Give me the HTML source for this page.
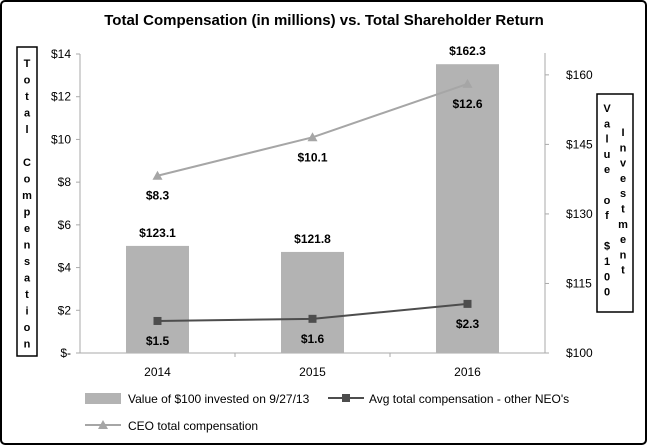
<!DOCTYPE html>
<html><head><meta charset="utf-8"><style>
body{margin:0;background:#fff;}
svg{display:block;font-family:"Liberation Sans",Arial,sans-serif;}
</style></head><body>
<svg id="c" width="648" height="446">
<rect x="1" y="1" width="645" height="443" rx="4" fill="#fff" stroke="#000" stroke-width="2"/>
<text x="324" y="25" text-anchor="middle" font-size="15" font-weight="bold">Total Compensation (in millions) vs. Total Shareholder Return</text>
<g id="g"></g>
</svg>
<script>
const years=["2014","2015","2016"];
const tsrValues=[123.1,121.8,162.3];
const tsrLabels=["$123.1","$121.8","$162.3"];
const ceoValues=[8.3,10.1,12.6];
const ceoLabels=["$8.3","$10.1","$12.6"];
const neoValues=[1.5,1.6,2.3];
const neoLabels=["$1.5","$1.6","$2.3"];
const leftTicks=[0,2,4,6,8,10,12,14];
const leftTickLabels=["$-","$2","$4","$6","$8","$10","$12","$14"];
const rightTicks=[100,115,130,145,160];
const rightTickLabels=["$100","$115","$130","$145","$160"];
const NS="http://www.w3.org/2000/svg";
const g=document.getElementById('g');
const X0=80,X1=545,YB=353,YT=54;
const yL=v=>YB-(v/14)*(YB-YT);
const yR=v=>YB-(v-100)/(164.5-100)*(YB-YT);
const xC=i=>X0+(X1-X0)*(i+0.5)/years.length;
function el(t,a,txt){const e=document.createElementNS(NS,t);for(const k in a)e.setAttribute(k,a[k]);if(txt!==undefined)e.textContent=txt;g.appendChild(e);return e;}
let e=el('line',{x1:X0,y1:YT,x2:X0,y2:YB,stroke:'#aaa'});


e=el('line',{x1:X1,y1:YT-1,x2:X1,y2:YB,stroke:'#aaa'});


e=el('line',{x1:X0,y1:YB,x2:X1,y2:YB,stroke:'#aaa'});


for(let i=1;i<years.length;i++){const x=X0+(X1-X0)*i/years.length;el('line',{x1:x,y1:YB,x2:x,y2:YB+4,stroke:'#aaa'});}
leftTicks.forEach((v,i)=>{
 el('line',{x1:X0-4,y1:yL(v),x2:X0,y2:yL(v),stroke:'#aaa'});
 const t=el('text',{x:X0-9,y:yL(v)+4,'text-anchor':'end','font-size':12},leftTickLabels[i]);
 
 
});
rightTicks.forEach((v,i)=>{
 el('line',{x1:X1,y1:yR(v),x2:X1+4,y2:yR(v),stroke:'#aaa'});
 const t=el('text',{x:X1+21,y:yR(v)+4,'font-size':12},rightTickLabels[i]);
 
 
});
years.forEach((y,i)=>{
 const t=el('text',{x:xC(i),y:YB+23,'text-anchor':'middle','font-size':12},y);
 
 
});
tsrValues.forEach((v,i)=>{
 const b=el('rect',{x:xC(i)-31.5,y:yR(v),width:63,height:YB-yR(v),fill:'#b3b3b3'});
 
 
 const t=el('text',{x:xC(i),y:yR(v)-9,'text-anchor':'middle','font-size':12,'font-weight':'bold'},tsrLabels[i]);
 
 
});
function series(vals,labels,color,marker,name,dy){
 const p=el('polyline',{points:vals.map((v,i)=>xC(i)+','+yL(v)).join(' '),fill:'none',stroke:color,'stroke-width':2});
 
 
 vals.forEach((v,i)=>{
  const x=xC(i),y=yL(v);
  const m=marker==='sq'?el('rect',{x:x-4,y:y-4,width:8,height:8,fill:color}):el('polygon',{points:`${x},${y-5} ${x-5},${y+4} ${x+5},${y+4}`,fill:color});
  
  
  const t=el('text',{x:x,y:y+dy,'text-anchor':'middle','font-size':12,'font-weight':'bold'},labels[i]);
  
  
 });
}
series(ceoValues,ceoLabels,'#a6a6a6','tri','ceo-comp',24);
series(neoValues,neoLabels,'#4d4d4d','sq','neo-comp',24);
e=el('rect',{x:17,y:47,width:20,height:309,fill:'#fff',stroke:'#000','stroke-width':1.5});


"Total Compensation".split('').forEach((c,i)=>{
 const t=el('text',{x:27,y:67+i*16.5,'text-anchor':'middle','font-size':11,'font-weight':'bold'},c);
 
 
});
e=el('rect',{x:597,y:94,width:36,height:218,fill:'#fff',stroke:'#000','stroke-width':1.5});


"Value of $100".split('').forEach((c,i)=>{
 const t=el('text',{x:607,y:112+i*15.3,'text-anchor':'middle','font-size':11,'font-weight':'bold'},c);
 
 
});
"Investment".split('').forEach((c,i)=>{
 const t=el('text',{x:623,y:136+i*15.3,'text-anchor':'middle','font-size':11,'font-weight':'bold'},c);
 
 
});
e=el('rect',{x:85,y:393,width:36,height:11,fill:'#b3b3b3'});


e=el('text',{x:128,y:403,'font-size':12},'Value of $100 invested on 9/27/13');


e=el('line',{x1:328,y1:398,x2:364,y2:398,stroke:'#4d4d4d','stroke-width':2});


e=el('rect',{x:342,y:394,width:8,height:8,fill:'#4d4d4d'});
e=el('text',{x:369,y:403,'font-size':12},"Avg total compensation - other NEO's");


e=el('line',{x1:85,y1:425,x2:121,y2:425,stroke:'#a6a6a6','stroke-width':2});


e=el('polygon',{points:'103,420 98,429 108,429',fill:'#a6a6a6'});
e=el('text',{x:128,y:430,'font-size':12},'CEO total compensation');


</script>
</body></html>
